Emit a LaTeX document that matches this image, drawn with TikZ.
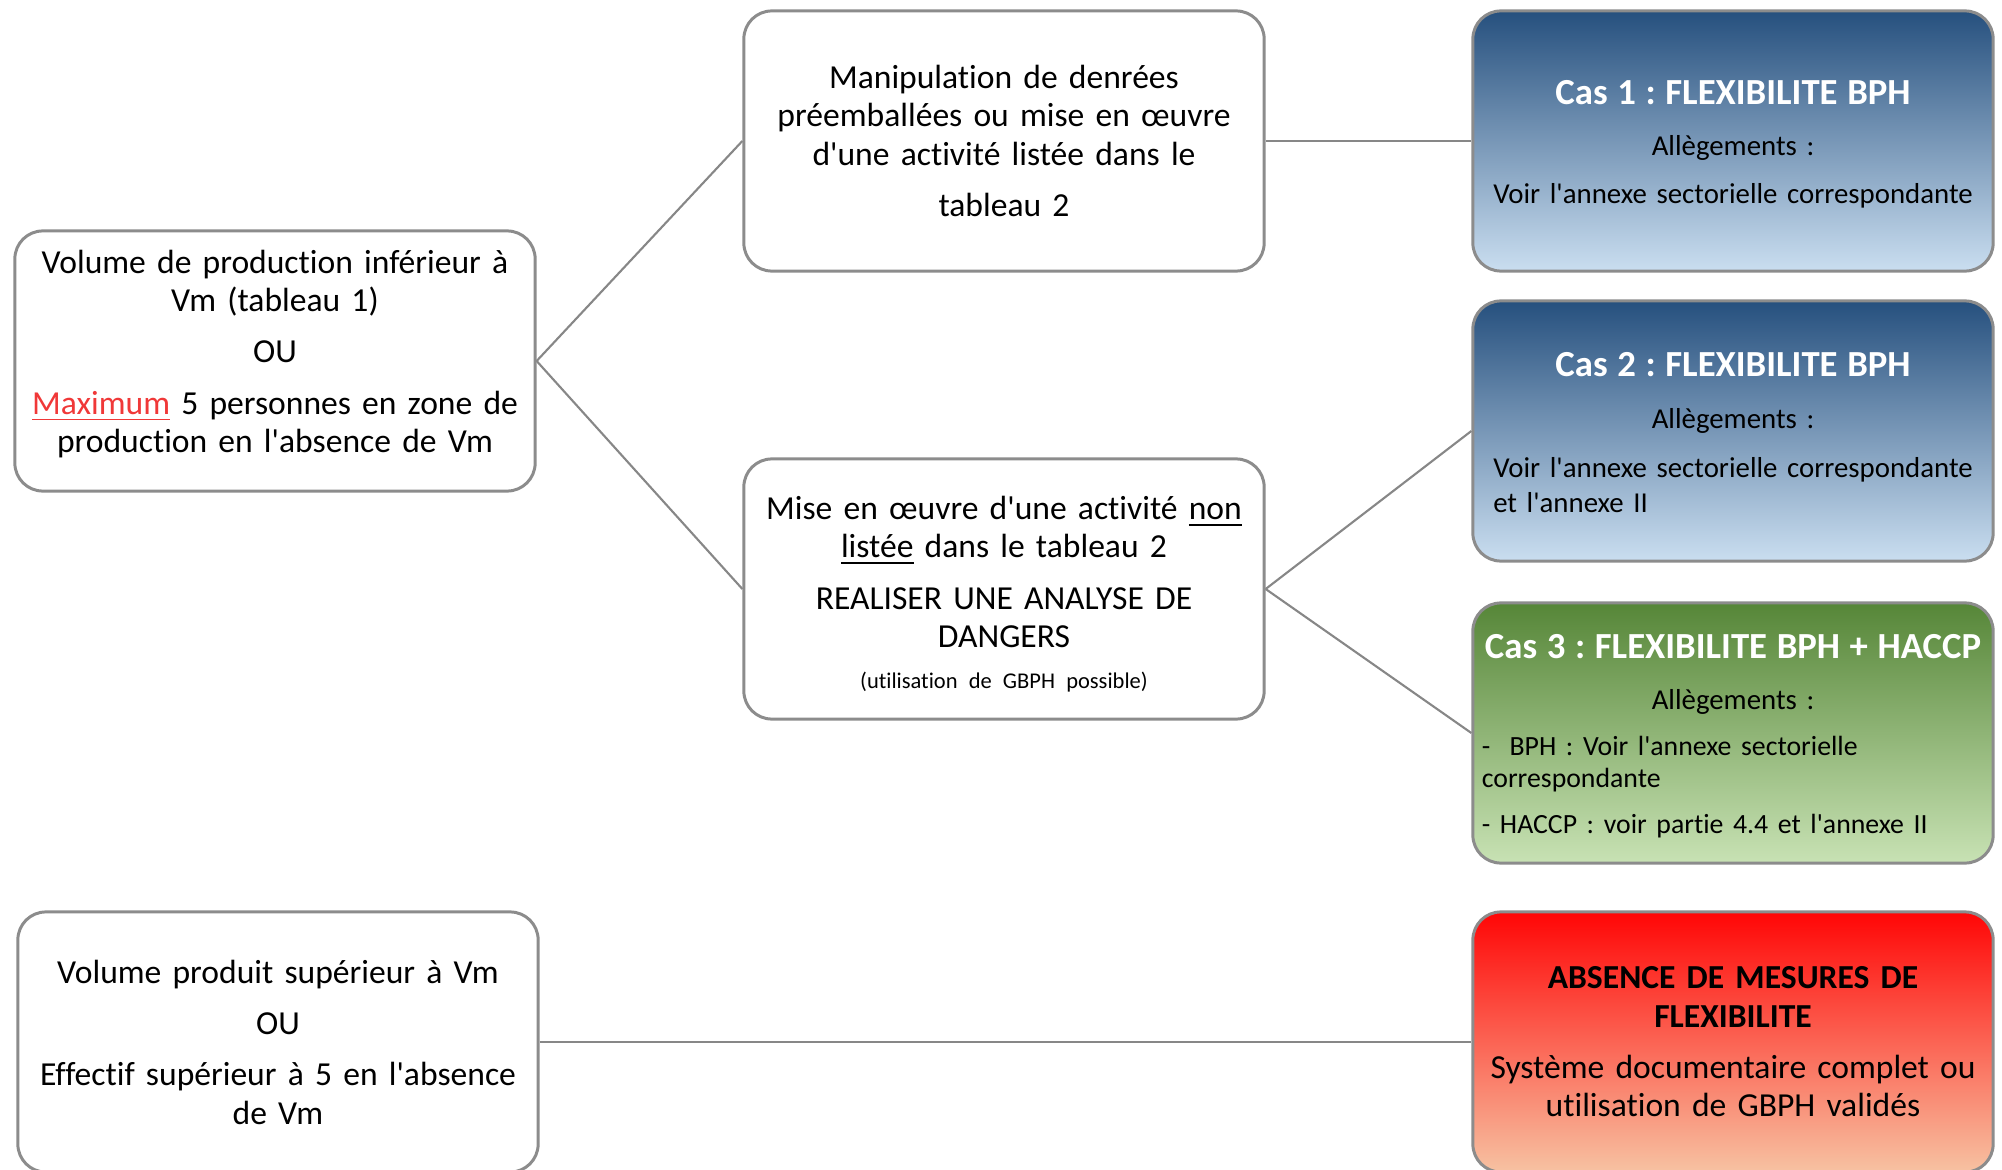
\documentclass[tikz,border=0pt]{standalone}
\usepackage{fontspec}
\newfontfamily\calib{Carlito}[Ligatures=NoCommon]
\frenchspacing

\definecolor{boxgray}{RGB}{140,140,140}
\definecolor{linegray}{RGB}{135,135,135}
\definecolor{bluetop}{RGB}{38,80,126}
\definecolor{bluebot}{RGB}{202,222,240}
\definecolor{greentop}{RGB}{86,134,56}
\definecolor{greenbot}{RGB}{200,226,180}
\definecolor{redtop}{RGB}{255,6,6}
\definecolor{redbot}{RGB}{247,194,162}
\definecolor{maxred}{RGB}{240,56,56}

\newcommand{\castitle}[2][0pt]{\makebox[\linewidth]{\rule{0pt}{#1}\fontsize{10.45}{12}\selectfont\bfseries\color{white}#2}}
\newcommand{\leftrows}[1]{\begin{tabular}{@{}l@{}}#1\end{tabular}}
\newcommand{\leftrow}[1]{\makebox[\linewidth][l]{\fontsize{7.9}{10}\selectfont #1}}

\tikzset{
  casbox/.style={font=\calib\fontsize{8.2}{10}\selectfont},
  bluebox/.style={casbox, top color=bluetop, bottom color=bluebot},
  greenbox/.style={casbox, top color=greentop, bottom color=greenbot},
  redbox/.style={top color=redtop, bottom color=redbot}
}

\begin{document}
\begin{tikzpicture}[x=0.01cm,y=-0.01cm]
      \useasboundingbox (0,0) rectangle (2002,1170);

      \begin{scope}[every node/.style={draw=boxgray, line width=0.85pt, rounded corners=0.28cm,
          minimum width=5.2cm, minimum height=2.6cm, text width=5.02cm, inner sep=0.09cm,
          align=center, font=\calib\fontsize{9.55}{10.9}\selectfont}]
        \node (1) at (275,361) {Volume de production inférieur à\\ Vm (tableau 1)\\[3.7pt]
          OU\\[3.7pt]
          \textcolor{maxred}{\underline{Maximum}} 5 personnes en zone de\\
          production en l'absence de Vm\rule[-5.6pt]{0pt}{1pt}};
        \node (2) at (1004,141) {Manipulation de denrées\\ préemballées ou mise en œuvre\\
          d'une activité listée dans le\\[3.7pt] tableau 2};
        \node (3) at (1004,589) {\rule{0pt}{9.5pt}Mise en œuvre d'une activité \underline{non}\\
          \underline{listée} dans le tableau 2\\[3.7pt]
          REALISER UNE ANALYSE DE\\ DANGERS\\[0.6pt]
          {\fontsize{6.4}{8}\selectfont (utilisation de GBPH possible)}};
        \node (4) [bluebox] at (1733,141) {\castitle[8.8pt]{Cas 1 : FLEXIBILITE BPH}\\[4.5pt]
          Allègements :\\[3.8pt]
          Voir l'annexe sectorielle correspondante};
        \node (5) [bluebox] at (1733,431) {\castitle[10.6pt]{Cas 2 : FLEXIBILITE BPH}\\[4.8pt]
          Allègements :\\[4.5pt]
          \leftrows{Voir l'annexe sectorielle correspondante\\ et l'annexe II}};
        \node (6) [greenbox] at (1733,733) {\castitle[8.8pt]{Cas 3 : FLEXIBILITE BPH + HACCP}\\[4.5pt]
          Allègements :\\[3.1pt]
          \leftrow{-~ BPH : Voir l'annexe sectorielle}\\[-0.9pt]
          \leftrow{correspondante}\\[3.1pt]
          \leftrow{- HACCP : voir partie 4.4 et l'annexe II}};
        \node (7) at (278,1042) {Volume produit supérieur à Vm\\[3.7pt]
          OU\\[3.7pt]
          Effectif supérieur à 5 en l'absence\\ de Vm};
        \node (8) [redbox] at (1733,1042) {{\bfseries ABSENCE DE MESURES DE\\ FLEXIBILITE}\\[3.7pt]
          Système documentaire complet ou\\ utilisation de GBPH validés};
      \end{scope}

      \begin{scope}[every edge/.style={draw=linegray, line width=0.6pt}]
        \path (1.east) edge (2.west);
        \path (1.east) edge (3.west);
        \path (2.east) edge (4.west);
        \path (3.east) edge (5.west);
        \path (3.east) edge (6.west);
        \path (7.east) edge (8.west);
      \end{scope}

    \end{tikzpicture}
\end{document}
